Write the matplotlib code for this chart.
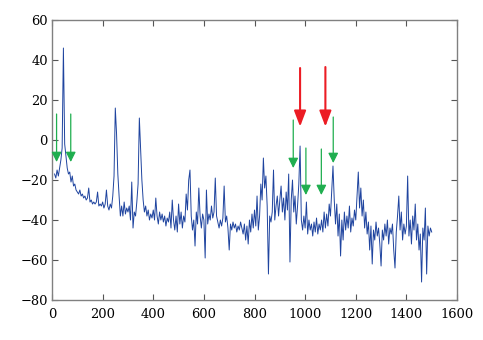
import numpy as np
import matplotlib
matplotlib.use("Agg")
import matplotlib.pyplot as plt

plt.rcParams["font.family"] = ["DejaVu Serif"]

# spettro campionato ogni 5 unità, da 10 a 1500
freq = np.arange(10, 1501, 5)
livello = [
    # 10 .. 95
    -17, -19, -15, -18, -14, -10, -4, 46, -2, -8, -14, -17, -16, -21, -18, -23, -22, -25,
    # 100 .. 195
    -26, -27, -25, -28, -27, -29, -28, -30, -29, -24, -31, -30, -32, -31, -32, -31, -26, -33, -32, -33,
    # 200 .. 295
    -31, -34, -32, -25, -33, -35, -32, -34, -28, -18, 16, 3, -17, -28, -38, -33, -38, -31, -37, -34,
    # 300 .. 395
    -36, -33, -40, -21, -44, -36, -38, -31, -22, 11, -4, -20, -30, -36, -33, -38, -35, -40, -37, -39,
    # 400 .. 495
    -35, -40, -29, -38, -42, -36, -40, -37, -41, -38, -43, -39, -41, -36, -44, -30, -40, -45, -38, -46,
    # 500 .. 595
    -32, -42, -36, -44, -38, -41, -27, -35, -20, -15, -38, -45, -40, -53, -36, -42, -24, -38, -44, -37,
    # 600 .. 695
    -40, -59, -25, -42, -37, -40, -33, -39, -36, -19, -38, -41, -44, -40, -43, -39, -23, -41, -38, -44,
    # 700 .. 795
    -55, -42, -45, -41, -44, -42, -46, -43, -45, -41, -44, -47, -42, -50, -43, -52, -40, -46, -37, -44,
    # 800 .. 895
    -35, -43, -28, -45, -38, -22, -30, -9, -24, -18, -33, -67, -38, -41, -36, -15, -40, -33, -28, -38,
    # 900 .. 995
    -30, -23, -36, -29, -40, -26, -35, -17, -61, -30, -20, -36, -28, -42, -33, -22, -3, -40, -45, -38,
    # 1000 .. 1095
    -44, -31, -47, -40, -45, -42, -48, -41, -46, -39, -47, -42, -45, -40, -46, -36, -44, -37, -43, -32,
    # 1100 .. 1195
    -38, -25, -13, -30, -42, -32, -48, -37, -58, -40, -50, -36, -45, -38, -44, -33, -46, -39, -43, -35,
    # 1200 .. 1295
    -40, -28, -16, -34, -24, -38, -30, -44, -36, -47, -41, -55, -43, -62, -45, -50, -41, -48, -44, -52,
    # 1300 .. 1395
    -63, -45, -50, -42, -48, -40, -52, -44, -47, -42, -55, -64, -46, -38, -28, -45, -36, -50, -42, -47,
    # 1400 .. 1500
    -43, -18, -48, -40, -52, -38, -45, -32, -50, -42, -55, -47, -71, -44, -50, -34, -67, -43, -48, -44, -46,
]
assert len(livello) == len(freq)

# frecce: (x, inizio, punta)
frecce_verdi = [(18, 13, -11), (74, 13, -11), (953, 10, -14),
                (1003, -4, -27.5), (1064, -4.5, -27.5), (1111, 11.5, -11.5)]
frecce_rosse = [(980, 36, 6.7), (1080, 36.5, 6.7)]

fig = plt.figure(figsize=(4.83, 3.40), dpi=100)
ax = fig.add_axes([0.1077, 0.1176, 0.8385, 0.8235])
ax.plot(freq, livello, color="#1f449f", lw=0.7)

for x, y0, y1 in frecce_verdi:
    ax.annotate("", xy=(x, y1), xytext=(x, y0),
                arrowprops=dict(arrowstyle="-|>,head_length=0.6,head_width=0.3",
                                color="#1fae4f", lw=0.9, mutation_scale=10,
                                shrinkA=0, shrinkB=0))
for x, y0, y1 in frecce_rosse:
    ax.annotate("", xy=(x, y1), xytext=(x, y0),
                arrowprops=dict(arrowstyle="-|>,head_length=0.95,head_width=0.36",
                                color="#ec1c24", lw=1.5, mutation_scale=10,
                                shrinkA=0, shrinkB=0))

ax.set_xlim(0, 1600)
ax.set_ylim(-80, 60)
ax.set_xticks(range(0, 1601, 200))
ax.set_yticks(range(-80, 61, 20))
ax.tick_params(direction="in", length=4, width=0.8, color="#555555",
               top=True, right=True, labelsize=9.4)
ax.tick_params(axis="x", pad=6)
ax.tick_params(axis="y", pad=3)
for s in ax.spines.values():
    s.set_color("#808080")
    s.set_linewidth(1.0)

fig.savefig("out.png", dpi=100)
